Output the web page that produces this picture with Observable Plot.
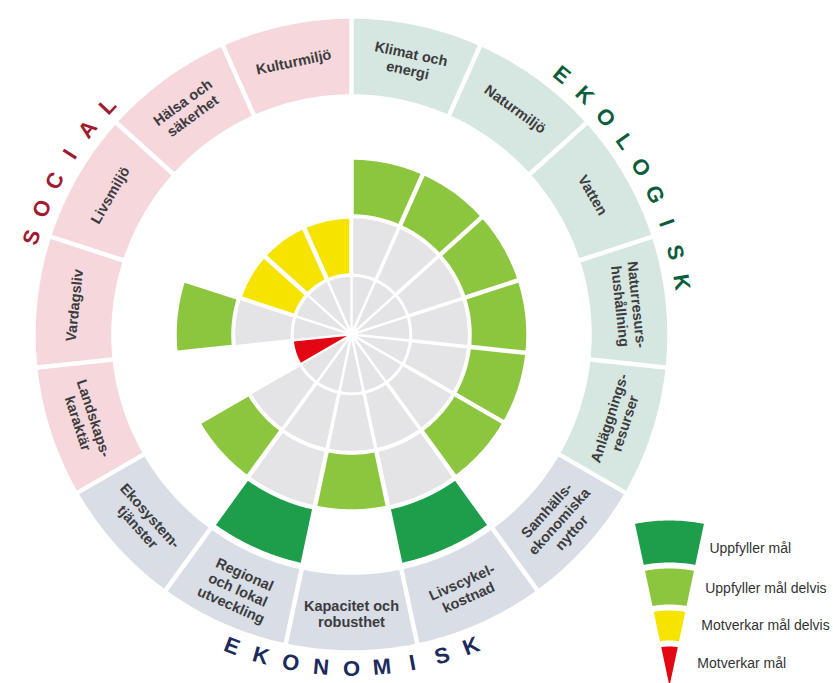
<!DOCTYPE html>
<html>
<head>
<meta charset="utf-8">
<script src="https://cdn.jsdelivr.net/npm/d3@7"></script>
<script src="https://cdn.jsdelivr.net/npm/@observablehq/plot@0.6"></script>
<style>
  html, body { margin: 0; padding: 0; background: #fff; }
</style>
</head>
<body>
<div id="chart"></div>
<script>
// ---------- data ----------
const criteria = [
  "Klimat och energi", "Naturmiljö", "Vatten", "Naturresurshushållning", "Anläggningsresurser",
  "Samhällsekonomiska nyttor", "Livscykelkostnad", "Kapacitet och robusthet", "Regional och lokal utveckling", "Ekosystemtjänster",
  "Landskapskaraktär", "Vardagsliv", "Livsmiljö", "Hälsa och säkerhet", "Kulturmiljö"
];
const criterionLabels = [
  "Klimat och\nenergi", "Naturmiljö", "Vatten", "Naturresurs-\nhushållning", "Anläggnings-\nresurser",
  "Samhälls-\nekonomiska\nnyttor", "Livscykel-\nkostnad", "Kapacitet och\nrobusthet", "Regional\noch lokal\nutveckling", "Ekosystem-\ntjänster",
  "Landskaps-\nkaraktär", "Vardagsliv", "Livsmiljö", "Hälsa och\nsäkerhet", "Kulturmiljö"
];
const criterionDimension = [
  "Ekologisk", "Ekologisk", "Ekologisk", "Ekologisk", "Ekologisk",
  "Ekonomisk", "Ekonomisk", "Ekonomisk", "Ekonomisk", "Ekonomisk",
  "Social", "Social", "Social", "Social", "Social"
];
// 1 = Motverkar mål, 2 = Motverkar mål delvis, 3 = Uppfyller mål delvis, 4 = Uppfyller mål
const assessment = [3, 3, 3, 3, 3, 3, 4, 3, 4, 3, 1, 3, 2, 2, 2];
const levelNames = ["Motverkar mål", "Motverkar mål delvis", "Uppfyller mål delvis", "Uppfyller mål"];
const dimensions = ["Ekologisk", "Ekonomisk", "Social"];
const dimensionTitles = ["EKOLOGISK", "EKONOMISK", "SOCIAL"];

// ---------- styles ----------
const levelColors = ["#e30613", "#f6e400", "#8cc63f", "#1e9d4b"];
const backgroundColor = "#e4e4e7";
const dimensionColors = ["#d6e6e0", "#d8dde6", "#f5d7dc"];
const titleColors = ["#0c5d3b", "#1d2a5c", "#a01a32"];

// ---------- layout ----------
const W = 833, H = 683;
const CX = 351, CY = 334;
const ringR = [0, 59, 118, 177, 236];
const ringGap = [2.5, 3.5, 4.5, 4.5];
const labelRing = [238, 318];
const labelR = 279;
const titleR = 334, titleStep = 5.25;
const legendC = [669, 700];
const legendR = [0, 57, 93, 135, 183];
const legendLabelR = [37, 75, 112, 152];
const legendHalf = 12;
const N = criteria.length, step = 360 / N;

const rad = d => d * Math.PI / 180;
const pt = (c, r, b) => [c[0] - CX + r * Math.sin(rad(b)), c[1] - CY - r * Math.cos(rad(b))];

function sector(c, r0, r1, b0, b1, gap) {
  const h = gap / 2;
  const ro = r1 - h;
  const apex = h / Math.sin(rad((b1 - b0) / 2));
  const ri = r0 > 0 ? r0 + h : 0;
  const pts = [];
  const dOut = Math.asin(h / ro) * 180 / Math.PI;
  const n = 30;
  for (let k = 0; k <= n; k++) pts.push(pt(c, ro, b0 + dOut + (b1 - b0 - 2 * dOut) * k / n));
  if (ri <= apex) {
    pts.push(pt(c, apex, (b0 + b1) / 2));
  } else {
    const dIn = Math.asin(h / ri) * 180 / Math.PI;
    for (let k = 0; k <= n; k++) pts.push(pt(c, ri, b1 - dIn - (b1 - b0 - 2 * dIn) * k / n));
  }
  return pts;
}

const cells = [];
const addCell = (id, group, pts) => pts.forEach(([x, y]) => cells.push({id, group, x, y}));
const center = [CX, CY];

criteria.forEach((c, i) => {
  const b0 = i * step, b1 = (i + 1) * step, L = assessment[i];
  addCell(`lab-${i}`, criterionDimension[i], sector(center, labelRing[0], labelRing[1], b0, b1, 4.5));
  for (let k = 1; k < L; k++) addCell(`bg-${i}-${k}`, "bakgrund", sector(center, ringR[k - 1], ringR[k], b0, b1, ringGap[k - 1]));
  addCell(`val-${i}`, levelNames[L - 1], sector(center, ringR[L - 1], ringR[L], b0, b1, L === 1 ? 2 : 4.5));
});
levelNames.forEach((name, k) => {
  addCell(`leg-${k}`, name, sector(legendC, legendR[k], legendR[k + 1], -legendHalf, legendHalf, 6));
});

const upright = b => {
  const a = ((b % 360) + 360) % 360;
  if (a > 90 && a < 270) return a - 180;
  return a > 180 ? a - 360 : a;
};

const labelRows = criteria.map((c, i) => {
  const b = (i + 0.5) * step;
  const [x, y] = pt(center, labelR, b);
  return {text: criterionLabels[i], x, y, rotate: upright(b)};
});

const titleRows = [];
dimensions.forEach((d, j) => {
  const idx = criteria.map((c, i) => i).filter(i => criterionDimension[i] === d);
  const mid = (idx[0] + idx[idx.length - 1] + 1) / 2 * step;
  const letters = [...dimensionTitles[j]];
  const bottom = mid > 90 && mid < 270;
  letters.forEach((ch, k) => {
    const off = (k - (letters.length - 1) / 2) * titleStep;
    const b = bottom ? mid - off : mid + off;
    const [x, y] = pt(center, titleR, b);
    titleRows.push({dim: d, ch, x, y, rotate: upright(b)});
  });
});

const legendRows = levelNames.map((name, k) => {
  const r = legendLabelR[k];
  return {text: name, x: legendC[0] - CX + 24 + r * Math.sin(rad(6)), y: legendC[1] - CY - r};
});

const font = "'Liberation Sans', Arial, Helvetica, sans-serif";

const chart = Plot.plot({
  width: W,
  height: H,
  margin: 0,
  style: {fontFamily: font, background: "#fff"},
  x: {domain: [-CX, W - CX], range: [0, W], axis: null},
  y: {domain: [-CY, H - CY], range: [0, H], axis: null},
  color: {
    type: "ordinal",
    domain: [...levelNames, "bakgrund", ...dimensions],
    range: [...levelColors, backgroundColor, ...dimensionColors],
    legend: false
  },
  marks: [
    Plot.line(cells, {x: "x", y: "y", z: "id", fill: "group", stroke: "none", curve: "linear-closed"}),
    Plot.text(labelRows, {
      x: "x", y: "y", text: "text", rotate: "rotate",
      fontSize: 14.5, fontWeight: "bold", fill: "#3c3c3e", lineHeight: 1.15
    }),
    ...dimensions.map((d, j) => Plot.text(titleRows.filter(r => r.dim === d), {
      x: "x", y: "y", text: "ch", rotate: "rotate",
      fontSize: 22, fontWeight: "bold", fill: titleColors[j]
    })),
    Plot.text(legendRows, {
      x: "x", y: "y", text: "text", textAnchor: "start",
      fontSize: 14, fill: "#333"
    })
  ]
});
document.getElementById("chart").appendChild(chart);
</script>
</body>
</html>
